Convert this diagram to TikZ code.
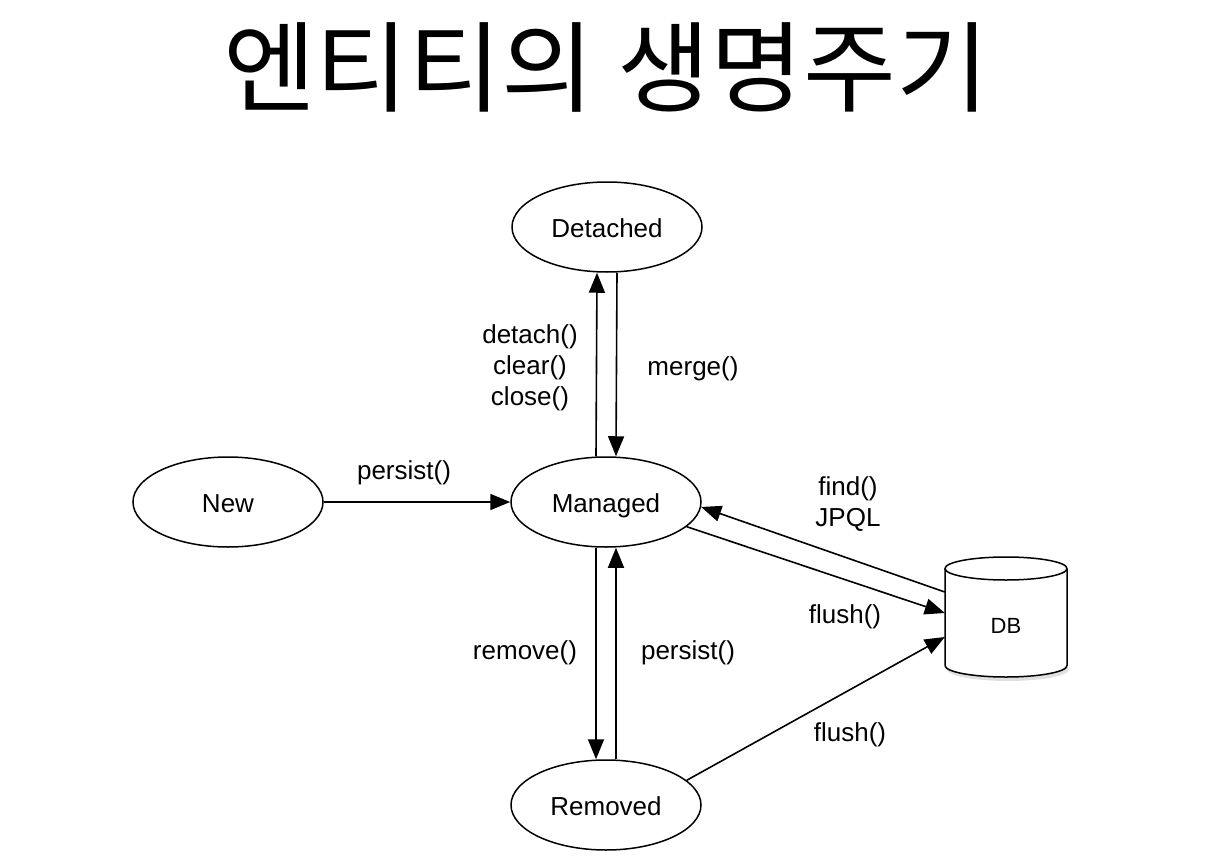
\documentclass[tikz,border=0pt]{standalone}
\usepackage{fontspec}
\setmainfont{Liberation Sans}
\newfontfamily\krfont{Noto Sans CJK KR}
\usetikzlibrary{arrows.meta,shapes.geometric}
\tikzset{
  state/.style={ellipse, draw, line width=1.5pt, minimum width=190pt, minimum height=90pt, inner sep=0pt, font=\fontsize{26}{30}\selectfont, text height=26pt, text depth=6pt, fill=white},
  conn/.style={line width=1.6pt, -{Triangle[length=20pt,width=16pt]}},
  lbl/.style={font=\fontsize{26}{31}\selectfont, align=center, inner sep=0pt},
}
\begin{document}
\begin{tikzpicture}[x=1pt,y=-1pt]
\useasboundingbox[fill=white] (0,0) rectangle (1211,862);
\node[font=\krfont\fontsize{99}{110}\selectfont, inner sep=0pt, xscale=1.02] (title) at (606,67) {엔티티의 생명주기};

\node[state] (d) at (607,227) {Detached};
\node[state] (n) at (228,502) {New};
\node[state] (m) at (606,502) {Managed};
\node[state] (r) at (606,805) {Removed};

% DB cylinder
\fill[black, opacity=0.12] (1008,669.5) ellipse[x radius=61, y radius=11.5];
\fill[white] (945,568.5) rectangle (1067,665.5);
\fill[white] (1006,665.5) ellipse[x radius=61, y radius=11.5];
\draw[line width=1.5pt] (945,568.5) -- (945,665.5) arc[start angle=180, end angle=0, x radius=61, y radius=11.5] -- (1067,568.5);
\draw[line width=1.5pt, fill=white] (1006,568.5) ellipse[x radius=61, y radius=11.5];
\node[minimum width=122pt, minimum height=120pt, inner sep=0pt] (db) at (1006,617) {};
\node[font=\fontsize{22}{26}\selectfont, inner sep=0pt] (dbl) at (1006,626) {DB};

% connectors
\draw[conn] (n) -- (m);
\draw[conn] ([xshift=-10pt]m.north) -- ([xshift=-10pt]d.south);
\draw[conn] ([xshift=10pt]d.south) -- ([xshift=10pt]m.north);
\draw[conn] ([xshift=-10pt]m.south) -- ([xshift=-10pt]r.north);
\draw[conn] ([xshift=10pt]r.north) -- ([xshift=10pt]m.south);
\draw[conn] ([yshift=25pt]db.west) -- (m.-3);
\draw[conn] (m.-17) -- ([yshift=4pt]db.west);
\draw[conn] (r.17) -- ([yshift=-20pt]db.west);

% labels
\node[lbl] (l1) at (404,473) {persist()};
\node[lbl] (l2) at (530,368) {detach()\\clear()\\close()};
\node[lbl] (l3) at (693,369) {merge()};
\node[lbl] (l4) at (848,504) {find()\\JPQL};
\node[lbl] (l5) at (845,617) {flush()};
\node[lbl] (l6) at (525,653) {remove()};
\node[lbl] (l7) at (688,653) {persist()};
\node[lbl] (l8) at (850,735) {flush()};
\end{tikzpicture}
\end{document}
